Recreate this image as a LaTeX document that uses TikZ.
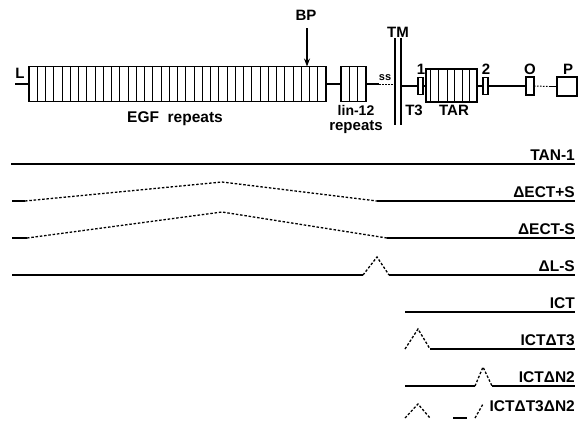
\documentclass[tikz,border=0pt]{standalone}
\usepackage{fontspec}
\setmainfont{Liberation Sans}
\usetikzlibrary{arrows.meta}
\tikzset{
    repbox/.style={draw, line width=1.1pt, fill=white, inner sep=0pt, outer sep=0pt},
    backbone/.style={line width=1.1pt},
    deleted/.style={line width=1.3pt, dash pattern=on 2.5pt off 1.8pt},
    toplabel/.style={anchor=base, inner sep=0pt, font=\bfseries\fontsize{15}{15}\selectfont},
    construct/.style={anchor=south east, inner sep=0pt, yshift=3.5pt, font=\bfseries\fontsize{15.5}{15.5}\selectfont}
}

\begin{document}
\begin{tikzpicture}[x=1pt, y=-1pt]
    \useasboundingbox (0,0) rectangle (588,421);

    % ---------------- protein map ----------------
    \node[repbox, minimum width=297pt, minimum height=35pt] (egf) at (177.5,84) {};
    \node[repbox, minimum width=25pt, minimum height=35pt] (lin) at (353.5,84) {};
    \node[repbox, minimum width=5pt, minimum height=17pt] (n1) at (420.5,86) {};
    \node[repbox, minimum width=51pt, minimum height=33pt] (tar) at (451.5,85.5) {};
    \node[repbox, minimum width=5pt, minimum height=17pt] (n2) at (485.5,86) {};
    \node[repbox, minimum width=8pt, minimum height=18pt] (opest) at (530,86) {};
    \node[repbox, minimum width=20pt, minimum height=19pt] (pbox) at (567,86.5) {};

    \coordinate (lstart) at (15,84);
    \coordinate (ssa) at (379,84);
    \coordinate (ssb) at (393,84);
    \coordinate (tma) at (401,86);
    \coordinate (dota) at (549,86.5);

    \draw[backbone] (lstart) -- (egf.west);
    \draw[backbone] (egf.east) -- (lin.west);
    \draw[backbone] (lin.east) -- (ssa);
    \draw[line width=1pt, dash pattern=on 1.5pt off 1.5pt] (ssa) -- (ssb);
    \draw[backbone] (tma) -- (n1.west);
    \draw[backbone] (n1.east) -- (n1.east -| tar.west);
    \draw[backbone] (tar.east |- n2.west) -- (n2.west);
    \draw[backbone] (n2.east) -- (opest.west);
    \draw[line width=1pt, dash pattern=on 1.5pt off 1.5pt] (opest.east) -- (dota);
    \draw[backbone] (dota) -- (pbox.west);

    % repeats
    \foreach \i in {1,...,35}
        \draw[line width=0.9pt] ({29+8.25*\i},66.5) -- ++(0,35);
    \foreach \x in {349.5,357.5}
        \draw[line width=0.9pt] (\x,66.5) -- ++(0,35);
    \foreach \x in {430.5,438.5,447,454.5,462,469.5}
        \draw[line width=0.9pt] (\x,69) -- ++(0,33);

    % transmembrane lines
    \draw[line width=1.1pt] (395,38) -- (395,125);
    \draw[line width=1.1pt] (401,38) -- (401,125);

    % breakpoint arrow
    \coordinate (bptop) at (307,28);
    \draw[line width=1.1pt, -{Stealth[length=8pt, width=6pt]}] (bptop) -- (egf.north -| bptop);

    % labels
    \node[toplabel] (lL) at (20,78) {L};
    \node[toplabel, font=\bfseries\fontsize{15.5}{15.5}\selectfont] (lEGF) at (175,122) {EGF\ \ repeats};
    \node[toplabel] (lBP) at (306,20) {BP};
    \node[toplabel, font=\bfseries\fontsize{14}{14}\selectfont] (llin) at (356,115) {lin-12};
    \node[toplabel] (lrep) at (356,130) {repeats};
    \node[anchor=base, inner sep=0pt, font=\bfseries\fontsize{11}{11}\selectfont] (lss) at (385,80) {ss};
    \node[toplabel] (lTM) at (398,37) {TM};
    \node[toplabel] (lT3) at (414,115) {T3};
    \node[toplabel] (lTAR) at (454,115) {TAR};
    \node[toplabel] (l1) at (421,74) {1};
    \node[toplabel] (l2) at (486,74) {2};
    \node[toplabel] (lO) at (530,74) {O};
    \node[toplabel] (lP) at (568,74) {P};

    % ---------------- TAN-1 ----------------
    \coordinate (ta0) at (11,164);
    \coordinate (ta1) at (575,164);
    \draw[backbone] (ta0) -- (ta1);
    \node[construct] (tan) at (ta1) {TAN-1};

    % ---------------- dECT+S ----------------
    \coordinate (ep0) at (12,201);
    \coordinate (ep1) at (25,201);
    \coordinate (ep2) at (222,182);
    \coordinate (ep3) at (377,201);
    \coordinate (ep4) at (575,201);
    \draw[backbone] (ep0) -- (ep1);
    \draw[deleted] (ep1) -- (ep2) -- (ep3);
    \draw[backbone] (ep3) -- (ep4);
    \node[construct] (ectp) at (ep4) {ΔECT+S};

    % ---------------- dECT-S ----------------
    \coordinate (em0) at (12,238);
    \coordinate (em1) at (27,238);
    \coordinate (em2) at (222,212);
    \coordinate (em3) at (387,238);
    \coordinate (em4) at (575,238);
    \draw[backbone] (em0) -- (em1);
    \draw[deleted] (em1) -- (em2) -- (em3);
    \draw[backbone] (em3) -- (em4);
    \node[construct] (ectm) at (em4) {ΔECT-S};

    % ---------------- dL-S ----------------
    \coordinate (ls0) at (12,275);
    \coordinate (ls1) at (363,275);
    \coordinate (ls2) at (377,257);
    \coordinate (ls3) at (389,275);
    \coordinate (ls4) at (575,275);
    \draw[backbone] (ls0) -- (ls1);
    \draw[deleted] (ls1) -- (ls2) -- (ls3);
    \draw[backbone] (ls3) -- (ls4);
    \node[construct] (dls) at (ls4) {ΔL-S};

    % ---------------- ICT ----------------
    \coordinate (ic0) at (405,312);
    \coordinate (ic1) at (575,312);
    \draw[backbone] (ic0) -- (ic1);
    \node[construct] (ict) at (ic1) {ICT};

    % ---------------- ICTdT3 ----------------
    \coordinate (it0) at (405,349);
    \coordinate (it1) at (418,329);
    \coordinate (it2) at (430,349);
    \coordinate (it3) at (575,349);
    \draw[deleted] (it0) -- (it1) -- (it2);
    \draw[backbone] (it2) -- (it3);
    \node[construct] (ictt) at (it3) {ICTΔT3};

    % ---------------- ICTdN2 ----------------
    \coordinate (in0) at (405,386);
    \coordinate (in1) at (475,386);
    \coordinate (in2) at (483,367);
    \coordinate (in3) at (492,386);
    \coordinate (in4) at (575,386);
    \draw[backbone] (in0) -- (in1);
    \draw[deleted] (in1) -- (in2) -- (in3);
    \draw[backbone] (in3) -- (in4);
    \node[construct] (ictn) at (in4) {ICTΔN2};

    % ---------------- ICTdT3dN2 ----------------
    \coordinate (tn0) at (405,418);
    \coordinate (tn1) at (418,404);
    \coordinate (tn2) at (430,418);
    \coordinate (tn3) at (453,418);
    \coordinate (tn4) at (467,418);
    \coordinate (tn5) at (475,418);
    \coordinate (tn6) at (483,404);
    \coordinate (tn7) at (575,413);
    \draw[deleted] (tn0) -- (tn1) -- (tn2);
    \draw[backbone] (tn3) -- (tn4);
    \draw[deleted] (tn5) -- (tn6);
    \node[construct, yshift=-2.5pt] (icttn) at (tn7) {ICTΔT3ΔN2};
\end{tikzpicture}
\end{document}
